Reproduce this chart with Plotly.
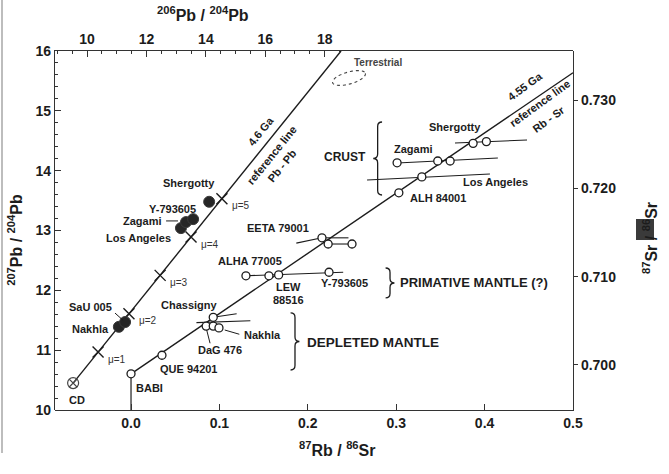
import numpy as np
import plotly.graph_objects as go

# ---------------- Pb-Pb system (top 206Pb/204Pb vs left 207Pb/204Pb) ----------------
pb_ref_x = [9.53, 18.55]          # 4.6 Ga reference line end points
pb_ref_y = [10.45, 16.0]

mu_text = ["μ=1", "μ=2", "μ=3", "μ=4", "μ=5"]
mu_x = [10.37, 11.41, 12.46, 13.50, 14.54]
mu_y = [10.97, 11.61, 12.25, 12.89, 13.53]

cd_x = [9.53]
cd_y = [10.45]

pb_names = ["Nakhla", "SaU 005", "Los Angeles", "Zagami", "Y-793605", "Shergotty"]
pb_206 = [11.07, 11.28, 13.16, 13.33, 13.57, 14.11]
pb_207 = [11.39, 11.47, 13.04, 13.14, 13.19, 13.48]

# ---------------- Rb-Sr system (bottom 87Rb/86Sr vs right 87Sr/86Sr) ----------------
sr_ref_x = [0.0, 0.5]             # 4.55 Ga reference line
sr_ref_y = [0.6990, 0.7331]

sr_names = ["BABI", "QUE 94201", "DaG 476", "Nakhla", "Chassigny", "Nakhla",
            "ALHA 77005", "LEW 88516", "LEW 88516", "Y-793605",
            "EETA 79001", "EETA 79001", "EETA 79001",
            "ALH 84001", "Los Angeles", "Zagami", "Zagami", "Zagami",
            "Shergotty", "Shergotty"]
rb_sr = [0.000, 0.035, 0.085, 0.093, 0.093, 0.0995,
         0.130, 0.156, 0.167, 0.224,
         0.216, 0.223, 0.250,
         0.303, 0.329, 0.301, 0.347, 0.361,
         0.387, 0.402]
sr_sr = [0.6990, 0.7011, 0.7044, 0.7044, 0.7054, 0.7042,
         0.7101, 0.7101, 0.7102, 0.7105,
         0.7144, 0.7137, 0.7137,
         0.7195, 0.7213, 0.7229, 0.7231, 0.7231,
         0.7251, 0.7253]

# evolution segments (start / end) drawn through the points
seg_x0 = [0.0928, 0.074, 0.130, 0.187, 0.216, 0.223, 0.267, 0.301, 0.3665]
seg_y0 = [0.7054, 0.7048, 0.7101, 0.7138, 0.7144, 0.7137, 0.72095, 0.72288, 0.72514]
seg_x1 = [0.1195, 0.135, 0.240, 0.216, 0.246, 0.250, 0.406, 0.415, 0.448]
seg_y1 = [0.7058, 0.7050, 0.7105, 0.7144, 0.7144, 0.7137, 0.72163, 0.72344, 0.72548]

FONT = "Liberation Sans, Arial, Helvetica, sans-serif"
INK = "#1c1c1c"

# Sr system lives on (x, y); Pb system on (x2, y2); both span the same box
SRX, SRY = "x", "y"
PBX, PBY = "x2", "y2"


def joined(x0, y0, x1, y1):
    xs, ys = [], []
    for a, b, c, d in zip(x0, y0, x1, y1):
        xs += [a, c, None]
        ys += [b, d, None]
    return xs, ys


fig = go.Figure()

# ---- Rb-Sr marks ----
fig.add_trace(go.Scatter(x=sr_ref_x, y=sr_ref_y, xaxis=SRX, yaxis=SRY, mode="lines",
                         line=dict(color=INK, width=1.4), hoverinfo="skip"))
fig.add_trace(go.Scatter(x=[0.0, 0.0], y=[0.6949, 0.6990], xaxis=SRX, yaxis=SRY, mode="lines",
                         line=dict(color=INK, width=1.2), hoverinfo="skip"))
sx, sy = joined(seg_x0, seg_y0, seg_x1, seg_y1)
fig.add_trace(go.Scatter(x=sx, y=sy, xaxis=SRX, yaxis=SRY, mode="lines",
                         line=dict(color=INK, width=1.1), hoverinfo="skip"))
# leaders for Nakhla and DaG 476
fig.add_trace(go.Scatter(x=[0.106, 0.1225, None, 0.0856, 0.0894],
                         y=[0.70396, 0.70348, None, 0.70396, 0.70246],
                         xaxis=SRX, yaxis=SRY, mode="lines",
                         line=dict(color=INK, width=1), hoverinfo="skip"))
fig.add_trace(go.Scatter(x=rb_sr, y=sr_sr, xaxis=SRX, yaxis=SRY, mode="markers",
                         marker=dict(size=8, color="white", line=dict(color=INK, width=1.3)),
                         text=sr_names, hoverinfo="text"))

# ---- Pb-Pb marks ----
fig.add_trace(go.Scatter(x=pb_ref_x, y=pb_ref_y, xaxis=PBX, yaxis=PBY, mode="lines",
                         line=dict(color=INK, width=1.4), hoverinfo="skip"))
fig.add_trace(go.Scatter(x=mu_x, y=mu_y, xaxis=PBX, yaxis=PBY, mode="markers",
                         marker=dict(symbol="x-thin", size=11, line=dict(color=INK, width=1.4)),
                         text=mu_text, hoverinfo="text"))
fig.add_trace(go.Scatter(x=cd_x, y=cd_y, xaxis=PBX, yaxis=PBY, mode="markers",
                         marker=dict(symbol="circle-x-open", size=11, color="#444",
                                     line=dict(color="#444", width=1.2)),
                         hoverinfo="skip"))
fig.add_trace(go.Scatter(x=pb_206, y=pb_207, xaxis=PBX, yaxis=PBY, mode="markers",
                         marker=dict(size=11, color="#262626", line=dict(color="#3a3a3a", width=1)),
                         text=pb_names, hoverinfo="text"))
fig.add_trace(go.Scatter(x=[12.66, 13.06, None, 10.94, 11.21],
                         y=[13.16, 13.16, None, 11.62, 11.50],
                         xaxis=PBX, yaxis=PBY, mode="lines",
                         line=dict(color=INK, width=1), hoverinfo="skip"))


def brace(x, y0, y1, w, h):
    ym = (y0 + y1) / 2
    return (f"M {x + w},{y1} Q {x},{y1} {x},{y1 - h} L {x},{ym + h} "
            f"Q {x},{ym} {x - w},{ym} Q {x},{ym} {x},{ym - h} "
            f"L {x},{y0 + h} Q {x},{y0} {x + w},{y0}")


shapes = []
for bx, by0, by1, bw in [(0.279, 0.71925, 0.72752, 0.005),
                         (0.293, 0.70759, 0.71098, -0.005),
                         (0.1855, 0.69943, 0.70589, -0.005)]:
    shapes.append(dict(type="path", xref=SRX, yref=SRY, path=brace(bx, by0, by1, bw, 0.0005),
                       line=dict(color=INK, width=1.3)))

# dashed outline of the terrestrial field (paper coordinates)
PW, PH = 518.0, 359.0
t = np.linspace(0, 2 * np.pi, 60)
cx, cy, rx, ry, ang = 349.0, 78.0, 17.0, 6.0, np.deg2rad(-16)
ex = cx + rx * np.cos(t) * np.cos(ang) - ry * np.sin(t) * np.sin(ang)
ey = cy + rx * np.cos(t) * np.sin(ang) + ry * np.sin(t) * np.cos(ang)
pts = [((a - 55) / PW, (410 - b) / PH) for a, b in zip(ex, ey)]
path = "M " + " L ".join(f"{a:.4f},{b:.4f}" for a, b in pts) + " Z"
shapes.append(dict(type="path", xref="paper", yref="paper", path=path,
                   line=dict(color="#444", width=1.1, dash="dot")))
# dark smudge over the right-hand axis title
shapes.append(dict(type="rect", xref="paper", yref="paper", x0=1.1216, x1=1.1564,
                   y0=0.4735, y1=0.532, fillcolor="#3a3a3a", line=dict(width=0), layer="above"))
# scanner edge on the far left
shapes.append(dict(type="line", xref="paper", yref="paper", x0=-0.1023, x1=-0.1023,
                   y0=-0.12, y1=1.142, line=dict(color="#bdbdbd", width=2)))


def lab(text, x, y, ref, size=11, bold=True, anchor="center", angle=0, color=INK):
    xr, yr = ref
    return dict(text=text, x=x, y=y, xref=xr, yref=yr, showarrow=False, xanchor=anchor,
                yanchor="middle", textangle=angle,
                font=dict(family=FONT, size=size, color=color, weight="bold" if bold else "normal"))


PB = (PBX, PBY)
SR = (SRX, SRY)
ann = [
    lab("Shergotty", 13.43, 13.79, PB),
    lab("Y-793605", 12.86, 13.36, PB),
    lab("Zagami", 12.58, 13.16, PB, anchor="right"),
    lab("Los Angeles", 12.90, 12.87, PB, anchor="right"),
    lab("SaU 005", 10.10, 11.72, PB),
    lab("Nakhla", 10.10, 11.35, PB),
    lab("CD", 9.66, 10.17, PB),
    lab("4.6 Ga", 15.85, 14.66, PB, size=11, angle=-51),
    lab("reference line", 16.22, 14.26, PB, size=11, angle=-51),
    lab("Pb - Pb", 16.55, 14.08, PB, size=11, angle=-51),
    lab("Terrestrial", 0.279, 0.73431, SR, size=10, color="#444"),
    lab("Shergotty", 0.3665, 0.72695, SR),
    lab("Zagami", 0.319, 0.72446, SR),
    lab("Los Angeles", 0.412, 0.72072, SR),
    lab("ALH 84001", 0.347, 0.71891, SR),
    lab("CRUST", 0.242, 0.72356, SR, size=12),
    lab("EETA 79001", 0.166, 0.71551, SR),
    lab("ALHA 77005", 0.1346, 0.71178, SR),
    lab("LEW", 0.1776, 0.70883, SR),
    lab("88516", 0.1776, 0.70736, SR),
    lab("Y-793605", 0.242, 0.70929, SR),
    lab("PRIMATIVE MANTLE (?)", 0.302, 0.70929, SR, size=13, anchor="left"),
    lab("Chassigny", 0.0667, 0.70679, SR),
    lab("DaG 476", 0.1007, 0.7017, SR),
    lab("Nakhla", 0.149, 0.7034, SR),
    lab("QUE 94201", 0.0645, 0.69955, SR),
    lab("BABI", 0.0204, 0.6974, SR),
    lab("DEPLETED MANTLE", 0.274, 0.70249, SR, size=13.5),
    lab("4.55 Ga", 0.446, 0.73160, SR, size=11, angle=-36),
    lab("reference line", 0.4627, 0.72967, SR, size=11, angle=-36),
    lab("Rb - Sr", 0.4725, 0.72790, SR, size=11, angle=-36),
]
ann += [lab(m, x + 0.28, y - 0.12, PB, size=10, bold=False, anchor="left", color="#333")
        for m, x, y in zip(mu_text, mu_x, mu_y)]
# axis titles
ann += [
    lab("<sup>206</sup>Pb / <sup>204</sup>Pb", 0.2857, 1.103, ("paper", "paper"), size=16),
    lab("<sup>207</sup>Pb / <sup>204</sup>Pb", -0.0772, 0.474, ("paper", "paper"), size=16, angle=-90),
    lab("<sup>87</sup>Sr / <sup>86</sup>Sr", 1.1486, 0.479, ("paper", "paper"), size=16, angle=-90),
    lab("<sup>87</sup>Rb / <sup>86</sup>Sr", 0.544, -0.109, ("paper", "paper"), size=16),
]

tickfont = dict(family=FONT, size=14, color=INK, weight="bold")
axis_common = dict(showgrid=False, zeroline=False, showline=True, linecolor="#333",
                   linewidth=1.2, tickcolor="#333", tickfont=tickfont, domain=[0, 1])

fig.update_layout(
    width=669, height=474,
    margin=dict(l=55, r=96, t=51, b=64),
    paper_bgcolor="white", plot_bgcolor="rgba(0,0,0,0)",
    showlegend=False,
    shapes=shapes, annotations=ann,
    # bottom axis: 87Rb/86Sr
    xaxis=dict(range=[-0.086, 0.5], tickvals=[0, 0.1, 0.2, 0.3, 0.4, 0.5],
               ticktext=["0.0", "0.1", "0.2", "0.3", "0.4", "0.5"],
               ticks="inside", ticklen=6, anchor="y", side="bottom", **axis_common),
    # right axis: 87Sr/86Sr
    yaxis=dict(range=[0.6949, 0.73556], tickvals=[0.70, 0.71, 0.72, 0.73],
               ticktext=["0.700", "0.710", "0.720", "0.730"], ticks="outside", ticklen=4,
               side="right", anchor="x", **axis_common),
    # top axis: 206Pb/204Pb
    xaxis2=dict(range=[8.92, 26.36], tickvals=[10, 12, 14, 16, 18], ticks="inside", ticklen=6,
                minor=dict(tickvals=[9, 9.5, 10.5, 11, 11.5, 12.5, 13, 13.5, 14.5, 15, 15.5,
                                     16.5, 17, 17.5, 18.5], ticks="inside", ticklen=3,
                           tickcolor="#333"),
                side="top", anchor="y2", **axis_common),
    # left axis: 207Pb/204Pb
    yaxis2=dict(range=[10, 16], dtick=1, ticks="inside", ticklen=6,
                minor=dict(dtick=0.2, ticks="inside", ticklen=3, tickcolor="#333"),
                side="left", anchor="x2", **axis_common),
)

fig.write_html("out.html")
